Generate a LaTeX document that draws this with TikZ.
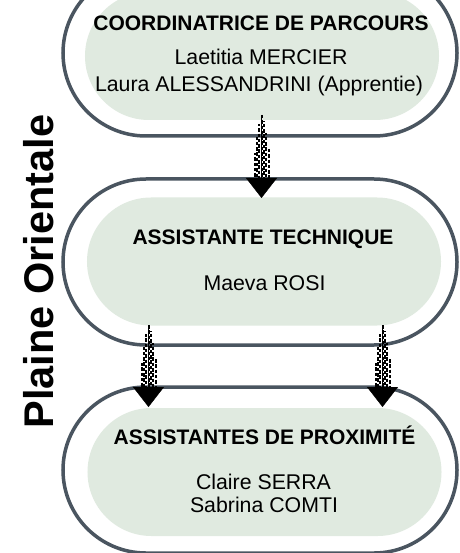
\documentclass[tikz,border=0pt]{standalone}
\usepackage{fontspec}
\setmainfont{Liberation Sans}
\usetikzlibrary{shapes.misc,arrows.meta,calc}
\definecolor{outl}{HTML}{4A5560}
\definecolor{boxfill}{HTML}{E0EAE0}
\newcommand\arrowshaft[2]{%
  \foreach \o/\d/\ph in {0/0/0, -2.4/9/1, 2.4/6/2.5, -4.8/22/0.5, 4.8/18/1.5, -7/38/1, 7/34/0}
    \draw[line width=2bp, dash pattern=on 3.5bp off 1.8bp, dash phase=\ph bp] ($(#1)+(\o,\d)$) -- ($(#2)+(\o,1)$);
}
\begin{document}
\begin{tikzpicture}[x=1bp,y=-1bp,
  outerbox/.style={rounded rectangle, draw=outl, line width=3.5bp, minimum width=394bp, minimum height=166bp, inner sep=0pt},
  innerbox/.style={rounded rectangle, fill=boxfill, minimum width=354bp, minimum height=128bp, inner sep=0pt},
  titletext/.style={font=\bfseries\fontsize{21bp}{24bp}\selectfont, anchor=base, inner sep=0pt},
  nametext/.style={font=\fontsize{21.3bp}{24bp}\selectfont, anchor=base, inner sep=0pt},
  headarrow/.style={-{Triangle[width=31bp,length=20bp]}, line width=0.4bp, black},
]
\useasboundingbox (0,0) rectangle (460,553);
\clip (0,0) rectangle (460,553);
\fill[white] (0,0) rectangle (460,553);

% boxes
\node[outerbox] (b1o) at (260,53) {};
\node[innerbox] (b1f) at (262,56) {};
\node[outerbox] (b2o) at (260,262) {};
\node[innerbox] (b2f) at (264,261.5) {};
\node[outerbox] (b3o) at (260,470) {};
\node[innerbox] (b3f) at (264.5,472) {};

% texts
\node[titletext] (t1) at (261,31) {COORDINATRICE DE PARCOURS};
\node[nametext] (n1a) at (261,65) {Laetitia MERCIER};
\node[nametext] (n1b) at (259,92) {Laura ALESSANDRINI (Apprentie)};
\node[titletext] (t2) at (263,244) {ASSISTANTE TECHNIQUE};
\node[nametext] (n2) at (264.5,290) {Maeva ROSI};
\node[titletext] (t3) at (264.5,444) {ASSISTANTES DE PROXIMITÉ};
\node[nametext] (n3a) at (263.5,489) {Claire SERRA};
\node[nametext] (n3b) at (264,512) {Sabrina COMTI};

\node[font=\bfseries\fontsize{41.5bp}{48bp}\selectfont, rotate=90, anchor=base, inner sep=0pt] (side) at (53,271.5) {Plaine Orientale};

% arrows
\coordinate (a1s) at (261.5,115);
\coordinate (a1h) at (261.5,178);
\coordinate (a1e) at (261.5,198);
\coordinate (a2s) at (148.5,325);
\coordinate (a2h) at (148.5,388);
\coordinate (a2e) at (148.5,407);
\coordinate (a3s) at (382.5,325);
\coordinate (a3h) at (382.5,388);
\coordinate (a3e) at (382.5,407);

\arrowshaft{a1s}{a1h}
\arrowshaft{a2s}{a2h}
\arrowshaft{a3s}{a3h}
\draw[headarrow] (a1s) -- (a1e);
\draw[headarrow] (a2s) -- (a2e);
\draw[headarrow] (a3s) -- (a3e);
\end{tikzpicture}
\end{document}
